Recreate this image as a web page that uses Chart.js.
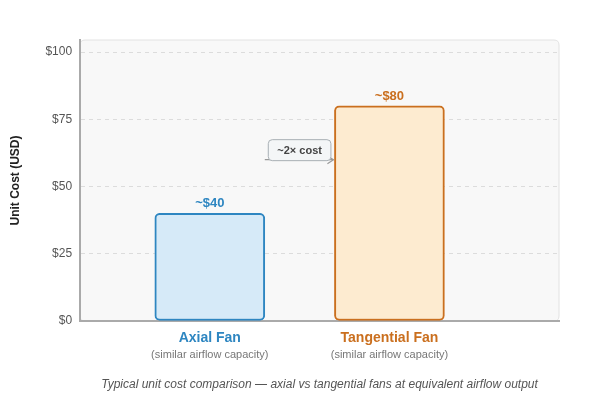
<!DOCTYPE html>
<html lang="en">
<head>
    <meta charset="UTF-8">
    <title>Fan cost comparison</title>
    <script src="https://cdn.jsdelivr.net/npm/chart.js"></script>
    <style>
        html, body { margin: 0; padding: 0; background: #fff; }
        #wrap { width: 600px; height: 400px; }
    </style>
</head>
<body>
<div id="wrap"><canvas id="costChart" width="600" height="400"></canvas></div>
<script>
    // data
    const categories = ["Axial Fan", "Tangential Fan"]
    const subLabels = ["(similar airflow capacity)", "(similar airflow capacity)"]
    const unitCost = [40, 80]
    const valueLabels = ["~$40", "~$80"]
    const yTicks = [0, 25, 50, 75, 100]
    const noteText = "~2× cost"
    const noteValue = 60
    const caption = "Typical unit cost comparison — axial vs tangential fans at equivalent airflow output"

    const fillColors = ["#d6eaf8", "#fdebd0"]
    const lineColors = ["#2e86c1", "#ca6f1e"]
    const FONT = "'Liberation Sans', Arial, sans-serif"

    function roundRect(ctx, x, y, w, h, r){
        ctx.beginPath()
        ctx.moveTo(x + r, y)
        ctx.lineTo(x + w - r, y)
        ctx.quadraticCurveTo(x + w, y, x + w, y + r)
        ctx.lineTo(x + w, y + h - r)
        ctx.quadraticCurveTo(x + w, y + h, x + w - r, y + h)
        ctx.lineTo(x + r, y + h)
        ctx.quadraticCurveTo(x, y + h, x, y + h - r)
        ctx.lineTo(x, y + r)
        ctx.quadraticCurveTo(x, y, x + r, y)
        ctx.closePath()
    }

    const plotBackground = {
        id: "plotBackground",
        beforeDraw(chart){
            const {ctx, chartArea: a} = chart
            ctx.save()
            roundRect(ctx, a.left, a.top, a.right - a.left, a.bottom - a.top, 5)
            ctx.fillStyle = "#f8f8f8"
            ctx.fill()
            ctx.strokeStyle = "#e2e2e2"
            ctx.lineWidth = 1
            ctx.stroke()
            ctx.restore()
        }
    }

    const extras = {
        id: "extras",
        afterDraw(chart){
            const {ctx, chartArea: a} = chart
            const xs = chart.scales.x
            const ys = chart.scales.y
            const bars = chart.getDatasetMeta(0).data
            ctx.save()
            ctx.textAlign = "center"

            // value labels above bars
            bars.forEach((b, i) => {
                ctx.font = "bold 13px " + FONT
                ctx.fillStyle = lineColors[i]
                ctx.textBaseline = "alphabetic"
                ctx.fillText(valueLabels[i], b.x, b.y - 6)
            })

            // category labels under the axis
            categories.forEach((c, i) => {
                const x = xs.getPixelForValue(i)
                ctx.textBaseline = "middle"
                ctx.font = "bold 14px " + FONT
                ctx.fillStyle = lineColors[i]
                ctx.fillText(c, x, a.bottom + 17)
                ctx.font = "11px " + FONT
                ctx.fillStyle = "#777"
                ctx.fillText(subLabels[i], x, a.bottom + 34)
            })

            // arrow between the bars
            const x0 = bars[0].x + bars[0].width / 2
            const x1 = bars[1].x - bars[1].width / 2
            const ya = ys.getPixelForValue(noteValue)
            ctx.strokeStyle = "#999"
            ctx.lineWidth = 1.2
            ctx.beginPath()
            ctx.moveTo(x0, ya)
            ctx.lineTo(x1 - 1, ya)
            ctx.stroke()
            ctx.beginPath()
            ctx.moveTo(x1 - 7, ya - 4)
            ctx.lineTo(x1 - 1, ya)
            ctx.lineTo(x1 - 7, ya + 4)
            ctx.stroke()

            // note box
            ctx.font = "600 11px " + FONT
            const tw = ctx.measureText(noteText).width
            const bw = tw + 18, bh = 21
            const bx = (x0 + x1) / 2 - bw / 2
            const by = ya - bh + 1
            roundRect(ctx, bx, by, bw, bh, 4)
            ctx.fillStyle = "#f4f6f7"
            ctx.fill()
            ctx.strokeStyle = "#a9b0b5"
            ctx.lineWidth = 1
            ctx.stroke()
            ctx.fillStyle = "#444"
            ctx.textBaseline = "middle"
            ctx.fillText(noteText, bx + bw / 2, by + bh / 2 + 0.5)

            // caption
            ctx.font = "italic 12px " + FONT
            ctx.fillStyle = "#555"
            ctx.fillText(caption, (a.left + a.right) / 2, 385)
            ctx.restore()
        }
    }

    const ctx = document.getElementById("costChart").getContext("2d")
    new Chart(ctx, {
        type: "bar",
        data: {
            datasets: [{
                label: "Unit cost",
                data: unitCost.map((v, i) => ({x: i, y: v})),
                backgroundColor: fillColors,
                borderColor: lineColors,
                borderWidth: 2,
                borderRadius: 5,
                borderSkipped: false,
                barThickness: 110
            }]
        },
        options: {
            responsive: false,
            animation: false,
            layout: {padding: {left: 4, right: 41, top: 40, bottom: 71}},
            plugins: {
                legend: {display: false},
                tooltip: {enabled: false}
            },
            scales: {
                x: {
                    type: "linear",
                    offset: false,
                    min: -0.722,
                    max: 1.944,
                    grid: {display: false},
                    ticks: {display: false},
                    border: {display: true, color: "#aaa", width: 2}
                },
                y: {
                    min: 0,
                    max: 104.5,
                    afterBuildTicks(scale){
                        scale.ticks = yTicks.map(v => ({value: v}))
                    },
                    ticks: {
                        callback: v => "$" + v,
                        color: "#555",
                        font: {family: FONT, size: 12},
                        padding: 8
                    },
                    grid: {
                        color: c => c.tick && c.tick.value === 0 ? "rgba(0,0,0,0)" : "#dcdcdc",
                        drawTicks: false
                    },
                    border: {display: true, color: "#aaa", width: 2, dash: [4, 4]},
                    title: {
                        display: true,
                        text: "Unit Cost (USD)",
                        color: "#222",
                        font: {family: FONT, size: 12, weight: "bold"},
                        padding: {bottom: 15}
                    }
                }
            }
        },
        plugins: [plotBackground, extras]
    })
</script>
</body>
</html>
